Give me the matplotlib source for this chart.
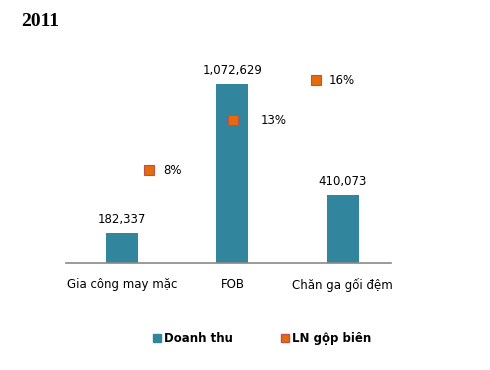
import matplotlib
matplotlib.use('Agg')
import matplotlib.pyplot as plt
from matplotlib.patches import Patch
from matplotlib.lines import Line2D

categories = ['Gia công may mặc', 'FOB', 'Chăn ga gối đệm']
revenue = [182337, 1072629, 410073]
margin = [8.1, 12.5, 16.0]
revenue_labels = ['182,337', '1,072,629', '410,073']
margin_labels = ['8%', '13%', '16%']

bar_color = '#31859C'
mk_face = '#E46C0A'
mk_edge = '#C0504D'

plt.rcParams['font.family'] = ['DejaVu Sans']

fig = plt.figure(figsize=(4.9, 3.7), dpi=100)
ax = fig.add_axes([0.135, 0.289, 0.663, 0.603])

x = list(range(len(categories)))
ax.bar(x, revenue, width=0.29, color=bar_color, zorder=2)
ax.set_xlim(-0.51, 2.44)
ax.set_ylim(0, 1336300)
for i, v in enumerate(revenue):
    ax.annotate(revenue_labels[i], (i, v), xytext=(0, 5), textcoords='offset points',
                ha='center', va='bottom', fontsize=8.5)

ax.set_xticks(x)
ax.set_xticklabels(categories, fontsize=8.5)
ax.tick_params(axis='x', length=0, pad=11)
ax.set_yticks([])
for s in ['top', 'right', 'left']:
    ax.spines[s].set_visible(False)
ax.spines['bottom'].set_color('#898989')
ax.spines['bottom'].set_linewidth(1.2)

# secondary axis for margin
ax2 = fig.add_axes(ax.get_position(), frameon=False)
ax2.set_xlim(-1.0, 2.9)
ax2.set_ylim(0, 19.5)
ax2.plot(x, margin, linestyle='none', marker='s', markersize=6.5,
         markerfacecolor=mk_face, markeredgecolor=mk_edge, markeredgewidth=0.8, zorder=3)
label_dx = [10, 20, 9]
for i, v in enumerate(margin):
    ax2.annotate(margin_labels[i], (i, v), xytext=(label_dx[i], 0), textcoords='offset points',
                 ha='left', va='center', fontsize=8.5)
ax2.set_xticks([])
ax2.set_yticks([])

fig.text(0.043, 0.943, '2011', fontsize=14, fontweight='bold', family='Liberation Serif',
         ha='left', va='center')

handles = [Patch(facecolor=bar_color, edgecolor=bar_color),
           Line2D([], [], linestyle='none', marker='s', markersize=6,
                  markerfacecolor=mk_face, markeredgecolor=mk_edge)]
fig.legend(handles, ['Doanh thu', 'LN gộp biên'], loc='center', bbox_to_anchor=(0.535, 0.085),
           ncol=2, frameon=False, prop={'weight': 'bold', 'size': 8.5},
           handlelength=0.7, handleheight=0.7, handletextpad=0.3, columnspacing=4.0)

fig.savefig('out.png', dpi=100)
